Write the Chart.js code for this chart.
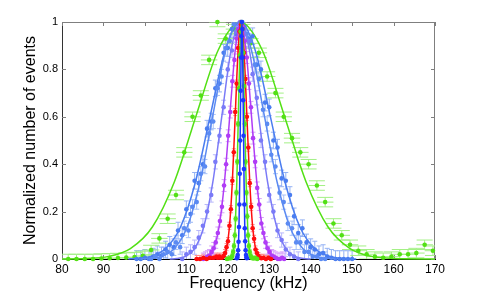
<!DOCTYPE html>
<html>
<head>
<meta charset="utf-8">
<script src="https://cdn.jsdelivr.net/npm/chart.js@4.4.0/dist/chart.umd.min.js"></script>
<style>
  html, body { margin: 0; padding: 0; background: #fff; }
</style>
</head>
<body>
<canvas id="c" width="480" height="296"></canvas>
<script>
const xTicks = [80, 90, 100, 110, 120, 130, 140, 150, 160, 170];
const yTicks = [0, 0.2, 0.4, 0.6, 0.8, 1];

// gaussian fit profile, shared by every fit curve (points at 0.5 sigma steps + tails)
const fitProfile = [0, 0.002, 0.011, 0.044, 0.135, 0.325, 0.607, 0.882, 1, 0.882, 0.607, 0.325, 0.135, 0.044, 0.011, 0.002, 0];

// wide green
const greenWideX = [81.5, 83.5, 85.5, 87.5, 89.5, 91.5, 93.5, 95.5, 97.5, 99.5, 101.5, 103.5, 105.5, 107.5, 109.5, 111.5, 113.5, 115.5, 117.5, 119.5, 121.5, 123.5, 125.5, 127.5, 129.5, 131.5, 133.5, 135.5, 137.5, 139.5, 141.5, 143.5, 145.5, 147.5, 149.5, 151.5, 153.5, 155.5, 157.5, 159.5, 161.5, 163.5, 165.5, 167.5, 169.5];
const greenWideY = [0, 0, 0, 0, 0.002, 0.003, 0.004, 0.006, 0.008, 0.013, 0.038, 0.087, 0.17, 0.27, 0.45, 0.60, 0.69, 0.84, 1.0, 0.93, 0.97, 0.99, 0.91, 0.87, 0.77, 0.70, 0.60, 0.51, 0.45, 0.40, 0.31, 0.24, 0.15, 0.10, 0.06, 0.035, 0.02, 0.01, 0.005, 0.01, 0.02, 0.02, 0.025, 0.06, 0.035];
const greenWideFitX = [80, 85.9, 91.2, 96.5, 101.8, 107.1, 112.4, 117.7, 123, 128.3, 133.6, 138.9, 144.2, 149.5, 154.8, 160.1, 170];

// blue
const blueX = [98, 99, 100, 101, 102, 103, 104, 105, 106, 107, 108, 109, 110, 111, 112, 113, 114, 115, 116, 117, 118, 119, 120, 121, 122, 123, 124, 125, 126, 127, 128, 129, 130, 131, 132, 133, 134, 135, 136, 137, 138, 139, 140, 141, 142, 143, 144, 145, 146, 147, 148, 149, 150];
const blueY = [0, 0, 0.005, 0, 0.01, 0.02, 0.015, 0.04, 0.06, 0.05, 0.12, 0.10, 0.21, 0.19, 0.33, 0.32, 0.40, 0.55, 0.58, 0.72, 0.74, 0.87, 0.89, 0.97, 0.95, 1.0, 0.98, 0.93, 0.94, 0.82, 0.80, 0.66, 0.64, 0.50, 0.47, 0.34, 0.33, 0.27, 0.18, 0.11, 0.13, 0.07, 0.05, 0.04, 0.02, 0.025, 0.01, 0.005, 0, 0, 0, 0, 0];
const blueFitX = [96, 97.8, 101.4, 105, 108.6, 112.2, 115.8, 119.4, 123, 126.6, 130.2, 133.8, 137.4, 141, 144.6, 148.2, 151];

// second blue
const blue2X = [101.5, 102.5, 103.5, 104.5, 105.5, 106.5, 107.5, 108.5, 109.5, 110.5, 111.5, 112.5, 113.5, 114.5, 115.5, 116.5, 117.5, 118.5, 119.5, 120.5, 121.5, 122.5, 123.5, 124.5, 125.5, 126.5, 127.5, 128.5, 129.5, 130.5, 131.5, 132.5, 133.5, 134.5, 135.5, 136.5, 137.5, 138.5, 139.5, 140.5, 141.5, 142.5, 143.5];
const blue2Y = [0, 0.01, 0, 0.02, 0.03, 0.02, 0.07, 0.05, 0.13, 0.12, 0.22, 0.24, 0.36, 0.39, 0.53, 0.58, 0.72, 0.77, 0.89, 0.92, 0.99, 0.97, 1.0, 0.95, 0.92, 0.82, 0.76, 0.63, 0.57, 0.44, 0.39, 0.28, 0.24, 0.15, 0.13, 0.07, 0.07, 0.03, 0.03, 0.01, 0.01, 0, 0];
const blue2FitX = [99, 100.9, 104, 107.1, 110.2, 113.3, 116.4, 119.5, 122.6, 125.7, 128.8, 131.9, 135, 138.1, 141.2, 144.3, 146];

// periwinkle
const periX = [109, 110, 111, 112, 113, 114, 115, 116, 117, 118, 119, 120, 121, 122, 123, 124, 125, 126, 127, 128, 129, 130, 131, 132, 133, 134, 135, 136, 137];
const periY = [0, 0.02, 0.03, 0.05, 0.09, 0.14, 0.20, 0.27, 0.41, 0.52, 0.64, 0.80, 0.88, 0.96, 0.98, 0.97, 0.92, 0.78, 0.68, 0.50, 0.41, 0.27, 0.20, 0.12, 0.08, 0.04, 0.02, 0.01, 0];
const periFitX = [106, 107.6, 109.8, 112, 114.2, 116.4, 118.6, 120.8, 123, 125.2, 127.4, 129.6, 131.8, 134, 136.2, 138.4, 140];

// purple
const purpleX = [114.1, 114.6, 115.1, 115.6, 116.1, 116.6, 117.1, 117.6, 118.1, 118.6, 119.1, 119.6, 120.1, 120.6, 121.1, 121.6, 122.1, 122.6, 123.1, 123.6, 124.1, 124.6, 125.1, 125.6, 126.1, 126.6, 127.1, 127.6, 128.1, 128.6, 129.1, 129.6, 130.1, 130.6, 131.1, 131.6, 132.1, 132.6, 133.1, 133.6];
const purpleY = [0, 0.005, 0.01, 0.015, 0.03, 0.045, 0.07, 0.11, 0.16, 0.22, 0.31, 0.40, 0.52, 0.62, 0.75, 0.84, 0.93, 0.97, 1.0, 0.98, 0.92, 0.85, 0.74, 0.64, 0.51, 0.41, 0.30, 0.23, 0.15, 0.11, 0.07, 0.045, 0.03, 0.015, 0.01, 0.005, 0, 0, 0.005, 0];
const purpleFitX = [112.5, 114.0, 115.3, 116.6, 117.9, 119.2, 120.5, 121.8, 123.1, 124.4, 125.7, 127.0, 128.3, 129.6, 130.9, 132.2, 134];

// red
const redX = [112.5, 113.3, 114.1, 114.9, 115.7, 116.5, 117.2, 117.6, 117.95, 118.3, 118.65, 119.0, 119.35, 119.7, 120.05, 120.4, 120.75, 121.1, 121.45, 121.8, 122.15, 122.5, 122.85, 123.2, 123.55, 123.9, 124.25, 124.6, 124.95, 125.3, 125.65, 126.0, 126.35, 126.7, 127.05, 127.4, 127.75, 128.1, 128.6, 129.2, 129.8, 130.4];
const redY = [0, 0, 0.005, 0, 0.005, 0.005, 0.01, 0.005, 0.01, 0.005, 0.006, 0.012, 0.025, 0.05, 0.075, 0.14, 0.21, 0.33, 0.45, 0.62, 0.74, 0.89, 0.96, 0.99, 0.97, 0.87, 0.76, 0.60, 0.47, 0.32, 0.22, 0.13, 0.085, 0.04, 0.025, 0.012, 0.005, 0.003, 0.005, 0, 0.005, 0];
const redFitX = [112, 118.3, 119.0, 119.7, 120.4, 121.1, 121.8, 122.5, 123.2, 123.9, 124.6, 125.3, 126.0, 126.7, 127.4, 128.1, 131];

// narrow green
const greenNX = [119.8, 120.2, 120.7, 120.9, 121.1, 121.3, 121.5, 121.7, 121.9, 122.1, 122.3, 122.5, 122.7, 122.9, 123.1, 123.3, 123.5, 123.7, 123.9, 124.1, 124.3, 124.5, 124.7, 124.9, 125.1, 125.3, 125.5, 125.7, 125.9, 126.3, 126.7, 127.1];
const greenNY = [0, 0.002, 0.003, 0.006, 0.014, 0.03, 0.055, 0.10, 0.17, 0.28, 0.41, 0.57, 0.72, 0.86, 0.96, 1.0, 0.97, 0.87, 0.73, 0.57, 0.41, 0.28, 0.18, 0.10, 0.055, 0.03, 0.015, 0.006, 0.003, 0.002, 0.004, 0];
const greenNFitX = [119.5, 120.68, 121.05, 121.43, 121.8, 122.18, 122.55, 122.93, 123.3, 123.68, 124.05, 124.43, 124.8, 125.18, 125.55, 125.93, 127];

// narrowest, dark blue
const darkBX = [122.2, 122.3, 122.4, 122.5, 122.6, 122.7, 122.8, 122.9, 123.0, 123.1, 123.2, 123.3, 123.4, 123.5, 123.6, 123.7, 123.8, 123.9, 124.0, 124.1, 124.2, 124.3, 124.4, 124.5, 124.6];
const darkBY = [0.003, 0.007, 0.017, 0.037, 0.073, 0.135, 0.23, 0.36, 0.50, 0.71, 0.85, 0.94, 1.0, 0.97, 0.85, 0.67, 0.52, 0.38, 0.23, 0.13, 0.075, 0.037, 0.017, 0.007, 0.003];
const darkBFitX = [121.6, 122.18, 122.35, 122.53, 122.7, 122.88, 123.05, 123.23, 123.4, 123.58, 123.75, 123.93, 124.1, 124.28, 124.45, 124.63, 125.2];

// first in list = drawn on top
const series = [
  { x: darkBX, y: darkBY, fitX: darkBFitX, color: '#1c38ff', err: null },
  { x: greenNX, y: greenNY, fitX: greenNFitX, color: '#55e31a', err: { dy: 0.01, dx: 0, cap: 2, color: '#a8f08c' } },
  { x: redX, y: redY, fitX: redFitX, color: '#ff0d0d', err: { dy: 0.015, dx: 0, cap: 2, color: '#ff8a8a' } },
  { x: purpleX, y: purpleY, fitX: purpleFitX, color: '#b03cf6', err: { dy: 0.025, dx: 0, cap: 2.5, color: '#d7a2fa' } },
  { x: periX, y: periY, fitX: periFitX, color: '#7a7af7', err: { dy: 0.03, dx: 0, cap: 2.5, color: '#b8b8fb' } },
  { x: blue2X, y: blue2Y, fitX: blue2FitX, color: '#5b8af2', err: { dy: 0.03, dx: 0, cap: 2.5, color: '#a9c2f7' } },
  { x: blueX, y: blueY, fitX: blueFitX, color: '#4a7df0', err: { dy: 0.035, dx: 0, cap: 2.5, color: '#94b2f4' } },
  { x: greenWideX, y: greenWideY, fitX: greenWideFitX, color: '#52e014', err: { dy: 0.02, dx: 2, cap: 8, color: '#a3f085' } },
];

const datasets = [];
series.forEach((s) => {
  datasets.push({
    data: s.x.map((v, i) => ({ x: v, y: s.y[i] })),
    showLine: false, pointRadius: 2.3, pointBorderWidth: 0,
    pointBackgroundColor: s.color, borderColor: s.color, clip: 6, err: s.err,
  });
  datasets.push({
    data: s.fitX.map((v, i) => ({ x: v, y: fitProfile[i] })),
    showLine: true, pointRadius: 0, borderColor: s.color, borderWidth: 1.5,
    cubicInterpolationMode: 'monotone', clip: 2,
  });
});

const frame = {
  id: 'frame',
  beforeDatasetsDraw(chart) {
    const { ctx, chartArea: a, scales: { x, y } } = chart;
    ctx.save();
    ctx.strokeStyle = '#7f7f7f';
    ctx.lineWidth = 1;
    ctx.beginPath();
    xTicks.forEach((v) => {
      const px = Math.round(x.getPixelForValue(v)) + 0.5;
      ctx.moveTo(px, a.top); ctx.lineTo(px, a.top + 4);
      ctx.moveTo(px, a.bottom); ctx.lineTo(px, a.bottom - 4);
    });
    yTicks.forEach((v) => {
      const py = Math.round(y.getPixelForValue(v)) + 0.5;
      ctx.moveTo(a.left, py); ctx.lineTo(a.left + 4, py);
      ctx.moveTo(a.right, py); ctx.lineTo(a.right - 4, py);
    });
    ctx.moveTo(a.left, Math.round(a.top) + 0.5); ctx.lineTo(a.right, Math.round(a.top) + 0.5);
    ctx.moveTo(Math.round(a.right) - 0.5, a.top); ctx.lineTo(Math.round(a.right) - 0.5, a.bottom);
    ctx.stroke();
    ctx.restore();
  },
};

const errorBars = {
  id: 'errorBars',
  beforeDatasetsDraw(chart) {
    const { ctx, chartArea: a, scales: { x, y } } = chart;
    ctx.save();
    ctx.beginPath();
    ctx.rect(a.left, a.top, a.right - a.left, a.bottom - a.top);
    ctx.clip();
    ctx.lineWidth = 1;
    chart.data.datasets.forEach((ds) => {
      if (!ds.err) return;
      const { dx, dy, cap, color } = ds.err;
      ctx.strokeStyle = color;
      ctx.beginPath();
      ds.data.forEach((p) => {
        const px = x.getPixelForValue(p.x);
        const py = y.getPixelForValue(p.y);
        if (dy) {
          const t = y.getPixelForValue(p.y + dy);
          const b = y.getPixelForValue(p.y - dy);
          ctx.moveTo(px, t); ctx.lineTo(px, b);
          ctx.moveTo(px - cap, t); ctx.lineTo(px + cap, t);
          ctx.moveTo(px - cap, b); ctx.lineTo(px + cap, b);
        }
        if (dx) {
          ctx.moveTo(x.getPixelForValue(p.x - dx), py);
          ctx.lineTo(x.getPixelForValue(p.x + dx), py);
        }
      });
      ctx.stroke();
    });
    ctx.restore();
  },
};

Chart.defaults.font.family = "'Liberation Sans', Arial, sans-serif";
Chart.defaults.color = '#000';

new Chart(document.getElementById('c'), {
  type: 'scatter',
  data: { datasets },
  plugins: [frame, errorBars],
  options: {
    responsive: false,
    animation: false,
    devicePixelRatio: 1,
    layout: { padding: { top: 22, right: 45, left: 0, bottom: 0 } },
    plugins: { legend: { display: false }, tooltip: { enabled: false } },
    scales: {
      x: {
        type: 'linear', min: 80, max: 170,
        afterFit: (s) => { s.height = 37; },
        ticks: { stepSize: 10, padding: 3, maxRotation: 0, autoSkip: false, font: { size: 12 } },
        grid: { display: false, drawTicks: false },
        border: { display: true, color: '#000', width: 1 },
        title: { display: true, text: 'Frequency (kHz)', font: { size: 16 }, padding: { top: 0, bottom: 3 } },
      },
      y: {
        type: 'linear', min: 0, max: 1,
        afterFit: (s) => { s.width = 62; },
        ticks: { stepSize: 0.2, padding: 4, font: { size: 11 }, callback: (v) => String(Number(v.toFixed(1))) },
        grid: { display: false, drawTicks: false },
        border: { display: true, color: '#333', width: 1 },
        title: { display: true, text: 'Normalized number of events', font: { size: 16 }, padding: { top: 21, bottom: 0 } },
      },
    },
  },
});
</script>
</body>
</html>
